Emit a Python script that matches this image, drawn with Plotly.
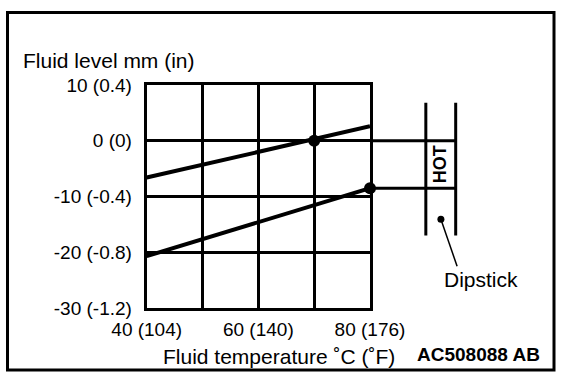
import plotly.graph_objects as go

# ---- data ----
temps = [40, 80]                      # fluid temperature, deg C (line end points)
upper_level = [-6.6, 2.6]             # upper line, fluid level mm
lower_level = [-20.7, -8.5]           # lower line, fluid level mm
dot_temps = [70, 80]
dot_levels = [0, -8.5]

x_tickvals = [40, 50, 60, 70, 80]
x_ticktext = ["40 (104)", "", "60 (140)", "", "80 (176)"]
y_tickvals = [-30, -20, -10, 0, 10]
y_ticktext = ["-30 (-1.2)", "-20 (-0.8)", "-10 (-0.4)", "0 (0)", "10 (0.4)"]

# dipstick sketch (in chart units)
hot_marks = [0, -8.5]                 # HOT band upper / lower level
dip_sides = [90, 95.35]               # left / right edge of dipstick
dip_span = [-17.0, 6.8]               # bottom / top of dipstick
dip_point = [92.7, -14.1]
leader_end = [95.6, -22.5]

# ---- geometry ----
W, H = 576, 380
L, R, T, B = 146.7, 370.0, 85.0, 308.0
ppu = (R - L) / 40.0
R2 = 560.0
FONT = "Liberation Sans, Arial, Helvetica, sans-serif"

def px(x):
    return x / W

def py(y):
    return 1 - y / H

fig = go.Figure()

fig.add_trace(go.Scatter(x=temps, y=upper_level, mode="lines",
                         line=dict(color="black", width=4), showlegend=False, hoverinfo="skip"))
fig.add_trace(go.Scatter(x=temps, y=lower_level, mode="lines",
                         line=dict(color="black", width=4), showlegend=False, hoverinfo="skip"))
fig.add_trace(go.Scatter(x=dot_temps, y=dot_levels, mode="markers", cliponaxis=False,
                         marker=dict(color="black", size=12), showlegend=False, hoverinfo="skip"))

# extension lines and dipstick on a wider overlay axis with the same scale
for lvl, x_start in zip(hot_marks, [temps[1], dot_temps[1]]):
    fig.add_trace(go.Scatter(x=[x_start, dip_sides[1]], y=[lvl, lvl], mode="lines",
                             xaxis="x2", yaxis="y2",
                             line=dict(color="black", width=3), showlegend=False, hoverinfo="skip"))
for xs in dip_sides:
    fig.add_trace(go.Scatter(x=[xs, xs], y=dip_span, mode="lines",
                             xaxis="x2", yaxis="y2",
                             line=dict(color="black", width=3), showlegend=False, hoverinfo="skip"))
fig.add_trace(go.Scatter(x=[dip_point[0], leader_end[0]], y=[dip_point[1], leader_end[1]],
                         mode="lines", xaxis="x2", yaxis="y2",
                         line=dict(color="black", width=1.5), showlegend=False, hoverinfo="skip"))
fig.add_trace(go.Scatter(x=[dip_point[0]], y=[dip_point[1]], mode="markers",
                         xaxis="x2", yaxis="y2", cliponaxis=False,
                         marker=dict(color="black", size=7), showlegend=False, hoverinfo="skip"))

axis_common = dict(showline=True, mirror=True, linecolor="black", linewidth=3,
                   showgrid=True, gridcolor="black", gridwidth=3, zeroline=False,
                   ticks="", fixedrange=True,
                   tickfont=dict(family=FONT, size=19, color="black"))

fig.update_layout(
    width=W, height=H,
    margin=dict(l=0, r=0, t=0, b=0, autoexpand=False),
    paper_bgcolor="white", plot_bgcolor="rgba(0,0,0,0)",
    xaxis=dict(domain=[px(L), px(R)], range=[40, 80], tickmode="array",
               tickvals=x_tickvals, ticktext=x_ticktext, ticklabelstandoff=2,
               anchor="y", **axis_common),
    yaxis=dict(domain=[py(B), py(T)], range=[-30, 10], tickmode="array",
               tickvals=y_tickvals, ticktext=y_ticktext, ticklabelstandoff=8,
               anchor="x", **axis_common),
    xaxis2=dict(domain=[px(L), px(R2)], range=[40, 40 + (R2 - L) / ppu], visible=False,
                anchor="y2", fixedrange=True),
    yaxis2=dict(domain=[py(B), py(T)], range=[-30, 10], visible=False,
                anchor="x2", fixedrange=True),
    showlegend=False,
)

# outer frame
fig.add_shape(type="rect", xref="paper", yref="paper",
              x0=px(7.5), x1=px(554), y0=py(370), y1=py(12.5),
              line=dict(color="black", width=3))

ann_font = dict(family=FONT, color="black")
fig.add_annotation(text="Fluid level mm (in)", xref="paper", yref="paper",
                   x=px(21), y=py(60), xanchor="left", yanchor="middle", showarrow=False,
                   font=dict(size=21, **ann_font))
fig.add_annotation(text="Fluid temperature ˚C (˚F)", xref="paper", yref="paper",
                   x=px(279), y=py(356), xanchor="center", yanchor="middle", showarrow=False,
                   font=dict(size=21, **ann_font))
fig.add_annotation(text="<b>AC508088 AB</b>", xref="paper", yref="paper",
                   x=px(478), y=py(354), xanchor="center", yanchor="middle", showarrow=False,
                   font=dict(size=19, **ann_font))
fig.add_annotation(text="<b>HOT</b>", xref="x2", yref="y2",
                   x=(dip_sides[0] + dip_sides[1]) / 2, y=(hot_marks[0] + hot_marks[1]) / 2,
                   textangle=-90, xanchor="center", yanchor="middle", showarrow=False,
                   font=dict(size=18, **ann_font))
fig.add_annotation(text="Dipstick", xref="x2", yref="y2",
                   x=leader_end[0] + 4.3, y=leader_end[1] - 2.4,
                   xanchor="center", yanchor="middle", showarrow=False,
                   font=dict(size=21, **ann_font))

fig.write_html("out.html",
               config={"displayModeBar": False, "staticPlot": True},
               post_script="document.body.style.margin='0';document.body.style.overflow='hidden';")
